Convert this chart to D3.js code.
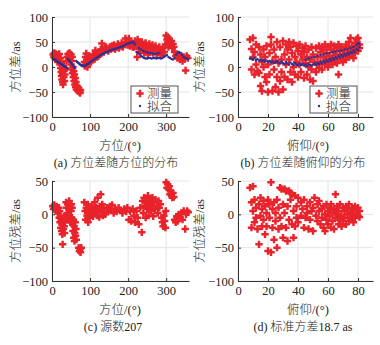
<!DOCTYPE html>
<html>
<head>
<meta charset="utf-8">
<script src="https://cdn.jsdelivr.net/npm/d3@7"></script>
<style>
  body { margin: 0; background: #fff; }
  svg text { font-family: "Liberation Serif", "Noto Sans CJK SC", serif; fill: #222; font-weight: 300; }
</style>
</head>
<body>
<div id="container"></div>
<script>
// (a) measured azimuth difference vs azimuth  [azimuth deg, diff as]
const azMeas = [
  [3,25],[5,20],[6,28],[8,22],[9,15],[10,26],[12,18],[13,24],[15,12],[16,22],[18,16],[19,26],[20,10],
  [21,5],[22,18],[23,-2],[24,-10],[25,8],[25,-18],[26,-25],[27,-5],[28,-30],[28,-14],[29,-35],[30,2],[31,-20],[32,-8],[33,-28],[34,-15],[35,-3],
  [38,12],[40,20],[42,26],[44,15],[45,22],[46,28],[48,18],[50,25],[52,12],[53,20],
  [50,5],[52,-5],[54,-12],[55,0],[56,-20],[57,-8],[58,-28],[59,-15],[60,-35],[61,-22],[62,-40],[63,-30],[64,-45],[66,-38],[68,-48],[70,-42],[72,-50],[74,-52],[75,-46],
  [85,10],[86,2],[88,20],[89,5],[90,27],[91,12],[93,0],[95,15],[96,6],[98,22],
  [102,10],[104,18],[106,14],[108,25],[110,20],[112,16],[114,33],[116,24],[118,20],[120,28],[122,22],[124,30],[126,25],[128,35],[130,28],[131,47],[133,32],[136,30],[138,38],[140,34],[142,40],[145,36],[148,32],
  [152,40],[155,36],[158,42],[160,38],[163,44],[166,36],[170,40],[173,46],[176,38],[180,42],[183,48],[186,40],[190,45],[193,57],[196,50],[199,44],[202,57],
  [205,42],[208,48],[212,40],[215,40],[218,52],[222,46],[224,20],[225,55],[228,36],[230,48],
  [232,30],[234,42],[236,50],[238,35],[240,45],[242,28],[244,38],[246,48],[248,32],[250,42],[252,25],[254,36],[256,46],[258,30],[260,40],[262,34],[264,44],[266,28],[268,38],[270,32],[272,42],[275,26],[278,36],[280,30],[282,40],[285,24],[288,34],[290,28],[292,38],[295,30],
  [298,45],[300,63],[302,55],[304,60],[305,48],[306,40],[308,56],[310,50],[312,44],[314,52],[316,38],[318,46],[320,40],
  [322,30],[325,22],[328,26],[330,18],[333,24],[336,15],[340,22],[343,12],[346,20],[349,16],[351,-7],[354,22],[357,18]
];

// (a) fitted difference vs azimuth
const azFit = [
  [2,17],[4,16],[6,15],[8,14],[10,13],[12,12],[14,11],[16,10],[18,9],[20,8],[22,7],[24,6],[26,5],[28,4],[30,3],[32,2],[34,1],[36,0],[38,-1],[40,-3],
  [42,16],[44,14],[46,12],[48,10],[50,8],[52,6],[54,4],[56,2],[58,0],[60,-2],
  [64,12],[66,10],[68,9],[70,8],[72,6],[74,5],[76,4],[78,3],[80,3],[82,2],[84,2],[86,2],[88,3],[90,4],[92,5],[94,6],[96,7],[98,8],
  [100,10],[104,12],[108,14],[112,16],[116,18],[120,20],[124,22],[128,24],[132,26],[136,27],[140,29],[144,30],[148,31],
  [152,33],[156,34],[160,35],[164,36],[168,37],[172,38],[176,39],[180,40],[184,41],[188,42],[192,44],[196,46],[200,47],[204,48],[208,49],[212,50],[215,49],[218,45],
  [222,30],[226,28],[230,26],[234,22],[238,20],[242,18],[246,17],[250,17],[254,18],[258,18],[262,17],[266,18],[270,18],[274,17],[278,18],[282,18],[286,17],[290,18],
  [228,38],[234,35],[240,32],[246,30],[252,29],[258,28],[264,27],[270,26],[276,27],[282,28],
  [294,20],[298,22],[302,24],[306,20],[310,18],[314,16],[318,15],[322,18],[326,24],[330,28],[334,30],[338,28],[342,24],[346,20],[350,18],[354,17],[358,16]
];

// (b) measured difference vs elevation  [elevation deg, diff as]
const elMeas = [
  [8,55],[9,36],[9,-5],[10,20],[10,58],[11,-15],[11,30],[12,5],[12,45],[13,-8],
  [14,40],[14,-12],[15,25],[15,-38],[16,10],[16,-48],[17,35],[17,0],[18,-20],[18,20],[19,42],[19,-30],[20,5],[20,-50],
  [21,28],[21,-15],[22,60],[22,45],[23,12],[23,-48],[24,35],[24,-5],[25,20],[25,-40],[26,50],[26,-20],[27,8],[27,-50],[28,40],[28,-28],[29,15],[29,-10],[30,52],[30,-45],
  [31,25],[31,-20],[32,45],[32,5],[33,35],[33,-25],[34,50],[34,15],[35,-10],[35,40],[36,28],[36,-30],[37,48],[37,0],[38,20],[38,-15],[39,42],[39,10],[40,32],[40,-20],
  [41,45],[41,5],[42,25],[42,-10],[43,38],[43,15],[44,-22],[44,30],[45,8],[45,42],[46,20],[46,-15],[47,35],[47,0],[48,-25],[48,15],[49,40],[49,-5],[50,25],[50,-28],[51,10],[52,38],[52,-10],[53,20],[53,5],[54,42],[54,-2],
  [55,30],[55,10],[56,40],[56,-5],[57,20],[57,35],[58,5],[58,45],[59,15],[59,28],[60,40],[60,0],[61,22],[61,10],[62,35],[62,45],[63,18],[63,5],[64,30],[64,42],[65,12],[65,25],[66,38],[66,8],[67,-15],[67,45],[68,20],[68,32],[69,15],[69,40],[70,25],[70,10],
  [71,35],[71,20],[72,45],[72,15],[73,28],[73,38],[74,20],[74,50],[75,32],[75,58],[76,25],[76,42],[77,35],[77,18],[78,48],[78,28],[79,40],[79,55],[80,32],[80,58],[81,45],[81,38]
];

// (b) fitted difference vs elevation
const elFit = [
  [8,17],[9,16],[10,15],[11,18],[12,14],[13,16],[14,13],[15,15],[16,12],[17,14],[18,11],[19,13],[20,10],[21,12],[22,9],[23,11],[24,8],[25,10],[26,12],[27,9],[28,7],[29,11],[30,8],
  [31,6],[32,10],[33,7],[34,5],[35,9],[36,6],[37,4],[38,8],[39,5],[40,3],[41,7],[42,4],[43,6],[44,3],[45,5],[46,2],[47,6],[48,4],[49,3],[50,5],
  [51,7],[52,4],[53,8],[54,6],[55,10],[56,7],[57,12],[58,9],[59,14],[60,11],[61,16],[62,13],[63,18],[64,15],[65,20],[66,17],[67,22],[68,19],[69,24],[70,21],
  [71,26],[72,23],[73,28],[74,25],[75,30],[76,28],[77,33],[78,30],[79,36],[80,34],[81,40],
  [45,15],[47,17],[49,19],[51,20],[53,22],[55,24],[57,25],[59,27],[61,28],[63,30],[65,31],[67,32],[69,33],[71,35],[73,36],[75,38],[77,40],[79,44],[80,48],[81,46]
];

// (c) residual vs azimuth
const azResid = [
  [2,12],[4,8],[6,14],[8,10],[10,5],[12,12],[14,8],[16,2],[18,10],[19,-5],[20,5],[21,-12],[22,-2],[23,-20],[24,-8],[25,-25],[26,-15],[27,-30],[28,-45],[29,-10],[30,-22],[31,-3],[32,-18],[33,-28],[34,-12],[35,-5],
  [37,18],[38,10],[40,2],[41,15],[42,-8],[44,8],[45,20],[46,-2],[47,12],[48,-12],[50,5],[51,15],[52,-5],[53,10],
  [54,-15],[55,-25],[56,-8],[57,-35],[58,-18],[59,-40],[60,-28],[61,-12],[62,-32],[63,-22],[64,-38],
  [70,-50],[72,-55],[74,-52],[75,-57],[77,-50],
  [85,18],[87,5],[88,-8],[90,10],[92,-2],[94,15],[95,-12],[97,3],[99,-5],
  [102,8],[104,0],[106,12],[108,-3],[110,5],[112,18],[114,2],[116,10],[118,-2],[120,25],[122,6],[124,-4],[126,12],[128,30],[130,4],[132,15],[134,-2],[136,8],[140,0],[144,10],[148,4],
  [152,12],[155,6],[158,14],[162,2],[166,8],[170,4],[175,10],[180,6],[185,2],[190,8],[195,4],[198,10],
  [202,-8],[205,5],[208,-10],[212,8],[215,-2],[218,-12],[222,5],[225,-5],[228,-15],[232,10],[236,-27],[238,20],
  [240,2],[242,25],[244,12],[246,-5],[248,18],[250,8],[252,28],[254,-2],[256,15],[258,22],[260,5],[262,12],[264,25],[266,-3],[268,18],[270,8],[272,22],[275,12],[278,2],[280,20],[282,10],[285,15],
  [288,-5],[290,-12],[292,-18],[294,-2],[296,-10],[298,-20],[299,5],
  [300,48],[302,40],[304,45],[306,38],[308,42],[310,30],[312,35],[314,28],[316,25],[318,32],[320,26],
  [322,-8],[325,-12],[328,-3],[330,-10],[333,0],[336,-5],[340,2],[343,-8],[346,5],[350,-22],[352,0],[355,5],[358,3]
];

// (d) residual vs elevation
const elResid = [
  [8,40],[9,18],[9,-20],[10,5],[10,42],[11,-12],[11,22],[12,-5],[12,10],[13,-22],
  [14,-45],[14,15],[15,25],[15,-2],[16,8],[16,-18],[17,20],[17,-8],[18,-30],[18,12],[19,2],[19,-18],[20,-55],[20,22],
  [21,-5],[21,15],[22,48],[22,-57],[23,8],[23,-20],[24,18],[24,-38],[25,2],[25,-10],[26,22],[26,-50],[27,10],[27,-22],[28,40],[28,-5],[29,38],[29,-18],[30,15],[30,-35],
  [31,38],[31,2],[32,35],[32,-20],[33,12],[33,-40],[34,35],[34,-8],[35,32],[35,22],[36,-15],[36,30],[37,5],[37,-35],[38,28],[38,-18],[39,12],[39,-5],[40,25],[40,-12],
  [42,18],[42,-2],[43,8],[44,22],[44,-20],[45,-5],[46,12],[46,2],[47,-22],[48,18],[48,-8],[49,5],[50,-25],[50,10],[51,25],[52,-2],[53,15],[53,-10],[54,20],[54,5],
  [55,-15],[56,8],[56,-5],[57,12],[57,-20],[58,0],[58,-25],[59,15],[59,-8],[60,5],[60,-15],[61,10],[61,-3],[62,-20],[62,15],[63,2],[63,-10],[64,8],[64,-22],[65,30],[65,-5],[66,12],[66,0],[67,-15],[67,5],[68,-8],[68,15],[69,-2],[69,-18],[70,10],[70,-10],
  [71,5],[71,-5],[72,12],[72,-15],[73,0],[73,8],[74,-10],[74,15],[75,3],[75,-8],[76,10],[76,-3],[77,-12],[77,5],[78,12],[78,-5],[79,0],[79,8],[80,-2],[80,10],[81,5],[81,-4]
];

const azTicks = [0, 100, 200, 300];
const elTicks = [0, 20, 40, 60, 80];
const diffTicks = [-100, -50, 0, 50, 100];
const residTicks = [-100, -50, 0, 50];
const legendNames = ["测量", "拟合"];

const red = "#e8232b";
const blue = "#2b3193";

const svg = d3.select("#container").append("svg")
  .attr("width", 380)
  .attr("height", 345);

const cross = d3.symbol(d3.symbolCross, 30);

function panel(o) {
  const x = d3.scaleLinear().domain(o.xDomain).range([o.left, o.right]);
  const y = d3.scaleLinear().domain(o.yDomain).range([o.bottom, o.top]);
  const g = svg.append("g");

  // grid
  g.append("g").selectAll("line")
    .data(o.xTicks)
    .enter().append("line")
    .attr("x1", d => x(d)).attr("x2", d => x(d))
    .attr("y1", o.top).attr("y2", o.bottom)
    .attr("stroke", "#e4e4e4").attr("stroke-width", 1);
  g.append("g").selectAll("line")
    .data(o.yTicks)
    .enter().append("line")
    .attr("x1", o.left).attr("x2", o.right)
    .attr("y1", d => y(d)).attr("y2", d => y(d))
    .attr("stroke", "#e4e4e4").attr("stroke-width", 1);

  // measured crosses, fit dots on top
  g.append("g").selectAll("path")
    .data(o.meas)
    .enter().append("path")
    .attr("d", cross)
    .attr("transform", d => `translate(${x(d[0])},${y(d[1])})`)
    .attr("fill", red);

  if (o.fit) {
    g.append("g").selectAll("circle")
      .data(o.fit)
      .enter().append("circle")
      .attr("cx", d => x(d[0]))
      .attr("cy", d => y(d[1]))
      .attr("r", 1.2)
      .attr("fill", blue);
  }

  const xAxis = g.append("g")
    .attr("transform", `translate(0,${o.bottom})`)
    .call(d3.axisBottom(x).tickValues(o.xTicks).tickSizeInner(-3).tickSizeOuter(0).tickPadding(5));
  const yAxis = g.append("g")
    .attr("transform", `translate(${o.left},0)`)
    .call(d3.axisLeft(y).tickValues(o.yTicks).tickSizeInner(-3).tickSizeOuter(0).tickPadding(4));
  [xAxis, yAxis].forEach(a => {
    a.select(".domain").attr("stroke", "#333");
    a.selectAll(".tick line").attr("stroke", "#333");
    a.selectAll("text").attr("font-size", 12.5).attr("fill", "#222")
      .attr("font-family", "Liberation Serif");
  });

  g.append("text")
    .attr("x", o.xLabelX).attr("y", o.bottom + 33)
    .attr("text-anchor", "middle").attr("font-size", 12.5)
    .text(o.xLabel);

  g.append("text")
    .attr("transform", `translate(${o.yLabelX},${(o.top + o.bottom) / 2}) rotate(-90)`)
    .attr("text-anchor", "middle").attr("font-size", 12.5)
    .text(o.yLabel);

  g.append("text")
    .attr("x", o.captionX).attr("y", o.bottom + 50)
    .attr("text-anchor", "middle").attr("font-size", 12)
    .text(o.caption);

  if (o.legend) {
    const L = o.legend;
    g.append("rect")
      .attr("x", L.x).attr("y", L.y).attr("width", 47).attr("height", 27)
      .attr("fill", "#fff").attr("stroke", "#555").attr("stroke-width", 1);
    g.append("path")
      .attr("d", cross)
      .attr("transform", `translate(${L.x + 9},${L.y + 7.5})`)
      .attr("fill", red);
    g.append("circle")
      .attr("cx", L.x + 9).attr("cy", L.y + 20)
      .attr("r", 1.2).attr("fill", blue);
    g.selectAll(".leg")
      .data(legendNames)
      .enter().append("text")
      .attr("x", L.x + 16)
      .attr("y", (_, i) => L.y + 12 + i * 12.5)
      .attr("font-size", 12.5)
      .text(d => d);
  }
}

panel({
  xDomain: [0, 360], yDomain: [-100, 100], left: 52, right: 189, top: 17, bottom: 117,
  xTicks: azTicks, yTicks: diffTicks, meas: azMeas, fit: azFit,
  xLabel: "方位/(°)", xLabelX: 120, yLabel: "方位差/as", yLabelX: 20,
  caption: "(a) 方位差随方位的分布", captionX: 116,
  legend: { x: 131, y: 86 }
});

panel({
  xDomain: [0, 90], yDomain: [-100, 100], left: 238, right: 373, top: 17, bottom: 117,
  xTicks: elTicks, yTicks: diffTicks, meas: elMeas, fit: elFit,
  xLabel: "俯仰/(°)", xLabelX: 308, yLabel: "方位差/as", yLabelX: 204,
  caption: "(b) 方位差随俯仰的分布", captionX: 303,
  legend: { x: 310, y: 86 }
});

panel({
  xDomain: [0, 360], yDomain: [-100, 50], left: 52, right: 189, top: 181, bottom: 281,
  xTicks: azTicks, yTicks: residTicks, meas: azResid,
  xLabel: "方位/(°)", xLabelX: 120, yLabel: "方位残差/as", yLabelX: 20,
  caption: "(c) 源数207", captionX: 113
});

panel({
  xDomain: [0, 90], yDomain: [-100, 50], left: 238, right: 373, top: 181, bottom: 281,
  xTicks: elTicks, yTicks: residTicks, meas: elResid,
  xLabel: "俯仰/(°)", xLabelX: 308, yLabel: "方位残差/as", yLabelX: 204,
  caption: "(d) 标准方差18.7 as", captionX: 303
});
</script>
</body>
</html>
